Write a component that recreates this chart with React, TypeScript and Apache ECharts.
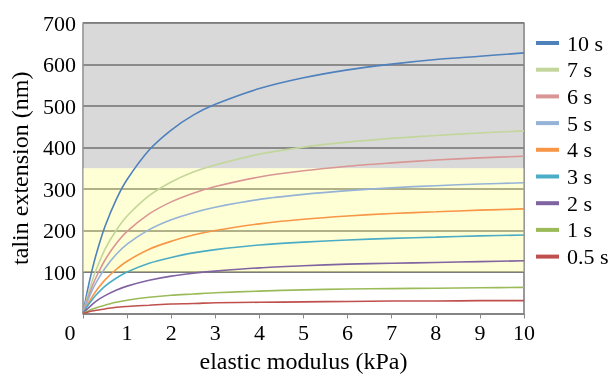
import React, { useEffect, useRef } from "react";
import * as echarts from "echarts";

const modulusKPa = [0, 0.1, 0.2, 0.3, 0.5, 0.75, 1, 1.5, 2, 2.5, 3, 4, 5, 6, 7, 8, 9, 10];

const ext10s = [0, 55, 102, 143, 210, 274, 323, 394, 442, 478, 504, 542, 568, 587, 601, 612, 620, 628];
const ext7s = [0, 41, 76, 106, 155, 200, 235, 284, 317, 341, 358, 384, 401, 413, 422, 429, 435, 440];
const ext6s = [0, 34, 63, 88, 129, 168, 198, 240, 269, 290, 306, 329, 344, 355, 363, 370, 375, 379];
const ext5s = [0, 29, 54, 75, 109, 142, 167, 202, 226, 243, 256, 275, 287, 296, 303, 308, 312, 315];
const ext4s = [0, 21, 39, 55, 81, 106, 126, 155, 174, 189, 200, 216, 227, 235, 241, 245, 249, 252];
const ext3s = [0, 18, 32, 45, 66, 85, 100, 121, 135, 146, 154, 165, 172, 177, 181, 184, 187, 189];
const ext2s = [0, 11, 21, 30, 43, 56, 66, 80, 90, 97, 102, 110, 115, 119, 121, 123, 125, 127];
const ext1s = [0, 5, 10, 14, 20, 27, 32, 39, 44, 47, 50, 54, 57, 59, 60, 61, 62, 63];
const ext05s = [0, 3, 6, 8, 11, 15, 17, 20, 23, 24, 26, 27, 28, 29, 30, 30, 31, 31];

const seriesNames = ["10 s", "7 s", "6 s", "5 s", "4 s", "3 s", "2 s", "1 s", "0.5 s"];
const seriesValues = [ext10s, ext7s, ext6s, ext5s, ext4s, ext3s, ext2s, ext1s, ext05s];
const seriesColors = ["#4F81BD", "#C3D69B", "#D99694", "#95B3D7", "#F79646", "#4BACC6", "#8064A2", "#9BBB59", "#C0504D"];

const xTicks = [0, 1, 2, 3, 4, 5, 6, 7, 8, 9, 10];
const yTicks = [0, 100, 200, 300, 400, 500, 600, 700];
const grayBand = [350, 700];
const yellowBand = [100, 350];

const FONT = "'Liberation Serif', 'Times New Roman', serif";

export default function App() {
  const ref = useRef<HTMLDivElement>(null);
  useEffect(() => {
    if (!ref.current) return;
    const chart = echarts.init(ref.current, undefined, { renderer: "svg" });
    const lineSeries = seriesNames.map((name, i) => ({
      name,
      type: "line",
      z: 2,
      smooth: 0.3,
      showSymbol: false,
      symbol: "none",
      data: modulusKPa.map((x, j) => [x, seriesValues[i][j]]),
      lineStyle: { color: seriesColors[i], width: 1.6 },
      itemStyle: { color: seriesColors[i] },
    }));
    chart.setOption({
      animation: false,
      textStyle: { fontFamily: FONT },
      grid: { left: 83, right: 88, top: 23, bottom: 60.5, containLabel: false, outerBoundsMode: "none" },
      legend: {
        data: seriesNames,
        orient: "vertical",
        left: 531,
        top: 27,
        itemWidth: 23,
        itemHeight: 4,
        itemGap: 4.7,
        icon: "rect",
        textStyle: { fontFamily: FONT, fontSize: 22, color: "#000", lineHeight: 22, padding: [0, 0, 0, 3] },
      },
      xAxis: {
        type: "value",
        min: xTicks[0],
        max: xTicks[xTicks.length - 1],
        interval: 1,
        name: "elastic modulus (kPa)",
        nameLocation: "middle",
        nameGap: 35,
        nameTextStyle: { fontFamily: FONT, fontSize: 24, color: "#000" },
        axisLine: { show: true, lineStyle: { color: "#888", width: 1.5 } },
        axisTick: { show: true, inside: false, length: 5, lineStyle: { color: "#888" } },
        axisLabel: {
          fontFamily: FONT,
          fontSize: 22,
          color: "#000",
          margin: 8,
          formatter: (v: number) => (v === 0 ? "{z|0}" : String(v)),
          rich: { z: { fontFamily: FONT, fontSize: 22, color: "#000", padding: [0, 26, 0, 0] } },
        },
        splitLine: { show: false },
      },
      yAxis: [
        {
          type: "value",
          min: yTicks[0],
          max: yTicks[yTicks.length - 1],
          interval: 100,
          name: "talin extension (nm)",
          nameLocation: "middle",
          nameGap: 50,
          nameTextStyle: { fontFamily: FONT, fontSize: 24, color: "#000" },
          axisLine: { show: true, lineStyle: { color: "#888", width: 1.5 } },
          axisTick: { show: false },
          axisLabel: {
            fontFamily: FONT,
            fontSize: 22,
            color: "#000",
            margin: 7,
            formatter: (v: number) => (v === 0 ? "" : String(v)),
          },
          splitLine: { show: true, lineStyle: { color: "#505050", width: 1.5 } },
        },
        {
          type: "value",
          min: yTicks[0],
          max: yTicks[yTicks.length - 1],
          interval: 100,
          position: "right",
          axisLine: { show: true, lineStyle: { color: "#777", width: 1.5 } },
          axisTick: { show: false },
          axisLabel: { show: false },
          splitLine: { show: false },
        },
      ],
      series: [
        ...lineSeries,
        {
          type: "line",
          z: 3,
          data: [],
          silent: true,
          markArea: {
            silent: true,
            data: [
              [
                { yAxis: grayBand[0], itemStyle: { color: "rgba(160,160,160,0.4)" } },
                { yAxis: grayBand[1] },
              ],
              [
                { yAxis: yellowBand[0], itemStyle: { color: "rgba(255,255,150,0.4)" } },
                { yAxis: yellowBand[1] },
              ],
            ],
          },
        },
      ],
    });
    return () => chart.dispose();
  }, []);
  return (
    <div
      ref={ref}
      style={{ position: "fixed", left: 0, top: 0, width: 612, height: 374 }}
    />
  );
}
